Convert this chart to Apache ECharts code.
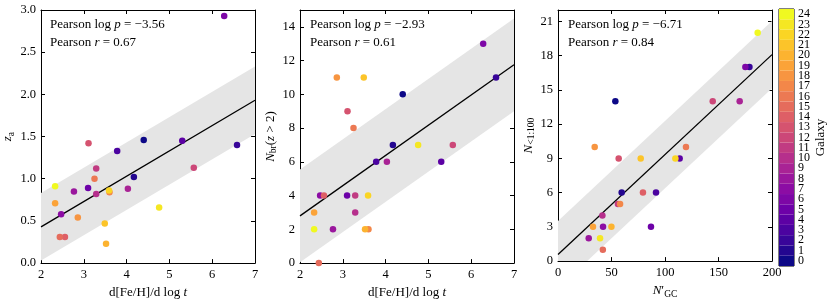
<!DOCTYPE html>
<html><head><meta charset="utf-8">
<script src="https://cdn.jsdelivr.net/npm/echarts@6/dist/echarts.min.js"></script>
<style>html,body{margin:0;padding:0;background:#fff}#c{width:831px;height:304px}</style>
</head><body><div id="c"></div>
<script>
// ---------------- data ----------------
const galaxyIds = [0,1,2,3,4,5,6,7,8,9,10,11,12,13,14,15,16,17,18,19,20,21,22,23,24];
const dFeHdlogt = [4.40,4.17,6.58,3.78,5.30,3.10,6.28,2.47,2.77,4.03,3.29,3.29,5.57,3.11,2.56,2.44,3.25,3.60,2.86,2.33,3.52,3.49,3.59,4.76,2.33];
const zA        = [1.46,1.02,1.40,1.33,1.45,0.89,2.93,0.58,0.85,0.88,0.82,1.12,1.13,1.42,0.31,0.31,1.00,0.84,0.54,0.71,0.23,0.47,0.86,0.66,0.91];
const nBr       = [10,7,11,6,6,4,13,4,2,6,3,4,7,9,4,0,8,2,11,3,2,11,4,7,2];
const nGC       = [53.6,59.5,178.9,91.6,113.7,86.9,175.1,42.1,28.7,169.8,41.5,56.0,144.6,56.7,79.4,41.9,119.6,58.0,34.3,32.7,49.9,77.3,109.7,39.3,186.6];
const nMerg     = [14,6,17,6,9,3,17,3,2,14,4,5,14,9,6,1,10,5,10,3,3,9,9,2,20];
const fitSlope     = [0.30, 1.79, 0.0876];
const fitIntercept = [-0.17, -0.78, 0.57];
const bandHalf     = [0.40, 2.75, 2.95];
const pearsonLogP  = [-3.56, -2.93, -6.71];
const pearsonR     = [0.67, 0.61, 0.84];
const xRanges = [[2,7,1],[2,7,1],[0,200,50]];
const yRanges = [[0,3,0.5],[0,15,2],[0,22,3]];
const yDecimals = [1,0,0];

// ---------------- style ----------------
const FONT = 'Liberation Serif';
const plasmaStops = ['#0d0887','#41049d','#6a00a8','#8f0da4','#b12a90','#cc4778','#e16462','#f2844b','#fca636','#fcce25','#f0f921'];
function hex2rgb(h){return [1,3,5].map(i=>parseInt(h.substr(i,2),16));}
function plasma(t){
  t=Math.max(0,Math.min(1,t));
  const p=t*(plasmaStops.length-1), i=Math.min(Math.floor(p),plasmaStops.length-2), f=p-i;
  const a=hex2rgb(plasmaStops[i]), b=hex2rgb(plasmaStops[i+1]);
  const c=a.map((v,k)=>Math.round(v+(b[k]-v)*f));
  return 'rgb('+c.join(',')+')';
}
const galaxyColor = id => plasma(id/(galaxyIds.length-1));

const gridsPx = [
  {left:40, top:10, width:215, height:256},
  {left:300, top:10, width:214, height:256},
  {left:558, top:10, width:214, height:256}
];
const rich = {
  n:{fontFamily:FONT,fontSize:13,color:'#000',lineHeight:17,verticalAlign:'middle'},
  i:{fontFamily:FONT,fontSize:13,color:'#000',fontStyle:'italic',lineHeight:17,verticalAlign:'middle'},
  s:{fontFamily:FONT,fontSize:9.5,color:'#000',lineHeight:10,verticalAlign:'bottom'}
};
const xNames = ['{n|d[Fe/H]/d log }{i|t}','{n|d[Fe/H]/d log }{i|t}','{i|N}{n|′}{s|GC}'];
const yNames = ['{i|z}{s|a}','{i|N}{s|br}{n|(}{i|z}{n| > 2)}','{i|N}{s|<1:100}'];
const yNameGaps = [25,21,20];

const grid=[], xAxis=[], yAxis=[], series=[], graphic=[];
function tickFmt(dec, step){return v => (Math.abs(v/step-Math.round(v/step))<1e-6) ? v.toFixed(dec) : '';}
const axisBase = {
  axisLine:{show:true,onZero:false,lineStyle:{color:'#000',width:1}},
  axisTick:{show:true,inside:true,length:4,lineStyle:{color:'#000',width:1}},
  splitLine:{show:false}
};
const xs=[dFeHdlogt,dFeHdlogt,nGC], ys=[zA,nBr,nMerg];
for(let p=0;p<3;p++){
  grid.push(Object.assign({containLabel:false},gridsPx[p]));
  const [x0,x1,dx]=xRanges[p], [y0,y1,dy]=yRanges[p];
  xAxis.push(Object.assign({type:'value',gridIndex:p,position:'bottom',min:x0,max:x1,interval:dx,
    name:xNames[p],nameLocation:'middle',nameGap:19,nameTextStyle:{rich},
    axisLabel:{color:'#000',fontFamily:FONT,fontSize:12.5,margin:5,formatter:tickFmt(0,dx)}},axisBase));
  xAxis.push(Object.assign({type:'value',gridIndex:p,position:'top',min:x0,max:x1,interval:dx,axisLabel:{show:false}},axisBase));
  yAxis.push(Object.assign({type:'value',gridIndex:p,position:'left',min:y0,max:y1,interval:dy,
    name:yNames[p],nameLocation:'middle',nameGap:yNameGaps[p],nameRotate:90,nameTextStyle:{rich},
    axisLabel:{color:'#000',fontFamily:FONT,fontSize:12.5,margin:5,formatter:tickFmt(yDecimals[p],dy)}},axisBase));
  yAxis.push(Object.assign({type:'value',gridIndex:p,position:'right',min:y0,max:y1,interval:dy,axisLabel:{show:false}},axisBase));
  const xa=2*p, ya=2*p;
  const line = x => fitIntercept[p]+fitSlope[p]*x;
  // band (fit ± scatter) as polygon through the axes
  series.push({type:'custom',xAxisIndex:xa,yAxisIndex:ya,silent:true,clip:true,z:1,
    data:[[x0,x1]],
    renderItem:(params,api)=>{
      const a=api.value(0), b=api.value(1);
      const pts=[[a,line(a)+bandHalf[p]],[b,line(b)+bandHalf[p]],[b,line(b)-bandHalf[p]],[a,line(a)-bandHalf[p]]].map(q=>api.coord(q));
      const cs=params.coordSys;
      return {type:'group',children:[{type:'polygon',shape:{points:pts},style:{fill:'#e5e5e5'}}],
        clipPath:{type:'rect',shape:{x:cs.x,y:cs.y,width:cs.width,height:cs.height}}};
    }});
  // fit
  series.push({type:'line',xAxisIndex:xa,yAxisIndex:ya,symbol:'none',silent:true,
    lineStyle:{color:'#000',width:1.3},data:[[x0,line(x0)],[x1,line(x1)]],z:2});
  // points
  series.push({type:'scatter',xAxisIndex:xa,yAxisIndex:ya,symbolSize:6.5,z:3,
    data:galaxyIds.map(g=>({value:[xs[p][g],ys[p][g]],itemStyle:{color:galaxyColor(g),opacity:1}}))});
  // annotations
  const lp = pearsonLogP[p]<0 ? '−'+Math.abs(pearsonLogP[p]).toFixed(2) : pearsonLogP[p].toFixed(2);
  graphic.push({type:'text',z:100,x:gridsPx[p].left+10,y:25,style:{text:'{n|Pearson log }{i|p}{n| = '+lp+'}',rich,verticalAlign:'middle'}});
  graphic.push({type:'text',z:100,x:gridsPx[p].left+10,y:43,style:{text:'{n|Pearson }{i|r}{n| = '+pearsonR[p].toFixed(2)+'}',rich,verticalAlign:'middle'}});
}
// colorbar
grid.push({left:779,top:9,width:15,height:257,show:true,borderColor:'#000',borderWidth:1,backgroundColor:'transparent'});
xAxis.push({type:'value',gridIndex:3,min:0,max:1,show:false});
yAxis.push({type:'category',gridIndex:3,position:'right',data:galaxyIds.map(String),boundaryGap:true,
  name:'Galaxy',nameLocation:'middle',nameGap:18,nameRotate:90,nameTextStyle:{fontFamily:FONT,fontSize:13,color:'#000'},
  axisLine:{show:false},axisTick:{show:true,alignWithLabel:true,inside:false,length:3,lineStyle:{color:'#000'}},
  axisLabel:{interval:0,color:'#000',fontFamily:FONT,fontSize:12,margin:4}});
series.push({type:'bar',xAxisIndex:6,yAxisIndex:6,barWidth:'100%',barCategoryGap:0,silent:true,
  data:galaxyIds.map(g=>({value:1,itemStyle:{color:galaxyColor(g)}}))});

const chart = echarts.init(document.getElementById('c'),null,{renderer:'canvas'});
chart.setOption({animation:false,backgroundColor:'#fff',grid,xAxis,yAxis,series,graphic});
</script></body></html>
